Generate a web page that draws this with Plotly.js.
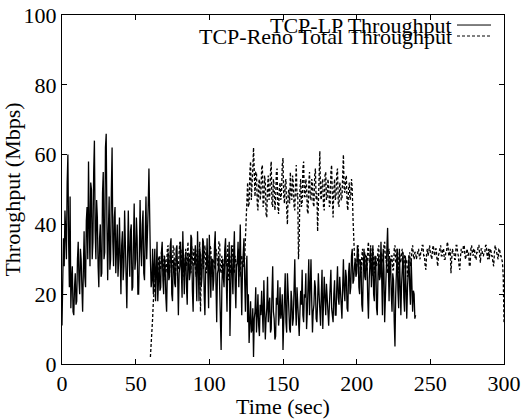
<!DOCTYPE html>
<html>
<head>
<meta charset="utf-8">
<script src="https://cdn.plot.ly/plotly-3.0.1.min.js"></script>
<style>html,body{margin:0;padding:0;background:#fff;}#chart{width:524px;height:419px;}</style>
</head>
<body>
<div id="chart"></div>
<script>
// TCP-LP throughput (Mbps), one sample every 0.5 s starting at t = 0 s
const lpStart = 0;
const lpStep = 0.5;
const lpValues = [
  11, 20, 36, 28, 44, 38, 30, 52, 60, 35, 22, 48, 16, 24, 28, 15, 14, 22, 26, 17,
  18, 30, 35, 24, 20, 33, 30, 22, 15, 27, 38, 25, 22, 41, 45, 30, 58, 40, 28, 52,
  50, 30, 35, 55, 64, 38, 30, 47, 42, 28, 22, 36, 40, 25, 26, 49, 55, 30, 32, 62,
  66, 40, 24, 38, 48, 27, 30, 50, 62, 35, 28, 42, 45, 26, 34, 40, 25, 30, 42, 28,
  20, 34, 38, 24, 28, 44, 35, 22, 16, 30, 44, 32, 25, 38, 40, 21, 22, 35, 46, 27,
  30, 42, 36, 20, 20, 31, 47, 33, 28, 40, 44, 26, 24, 37, 48, 30, 35, 45, 56, 38,
  30, 22, 24, 33, 20, 28, 33, 18, 26, 35, 18, 24, 30, 21, 22, 32, 35, 24, 20, 31,
  28, 19, 15, 27, 32, 24, 25, 34, 36, 20, 18, 29, 30, 23, 22, 33, 34, 25, 14, 26,
  28, 35, 24, 19, 38, 27, 20, 30, 32, 22, 17, 31, 30, 24, 26, 37, 36, 21, 15, 28,
  29, 34, 23, 18, 38, 26, 18, 33, 31, 22, 25, 36, 35, 20, 14, 27, 28, 36, 22, 16,
  37, 25, 19, 30, 30, 21, 24, 34, 38, 23, 12, 26, 27, 31, 20, 14, 4, 22, 30, 25,
  22, 33, 36, 24, 15, 29, 28, 35, 8, 20, 34, 27, 20, 31, 38, 23, 16, 28, 29, 35,
  22, 30, 40, 25, 14, 27, 30, 36, 24, 15, 27, 31, 12, 20, 6, 14, 18, 9, 10, 16,
  2, 13, 15, 22, 9, 14, 20, 11, 8, 17, 14, 21, 11, 9, 24, 16, 7, 13, 16, 25,
  12, 17, 19, 9, 10, 20, 28, 15, 13, 7, 8, 19, 17, 24, 11, 14, 22, 13, 15, 20,
  4, 12, 20, 26, 12, 9, 26, 18, 14, 10, 9, 21, 18, 11, 13, 28, 30, 17, 11, 22,
  16, 12, 8, 15, 21, 17, 27, 14, 12, 20, 19, 26, 10, 15, 24, 30, 14, 21, 30, 18,
  9, 15, 17, 24, 22, 13, 12, 18, 26, 20, 15, 11, 20, 27, 10, 16, 25, 19, 14, 23,
  18, 12, 11, 17, 22, 27, 16, 13, 12, 20, 24, 14, 14, 22, 28, 19, 17, 25, 20, 15,
  13, 22, 30, 21, 18, 27, 25, 16, 15, 26, 29, 20, 22, 31, 33, 23, 24, 28, 30, 25,
  26, 34, 32, 22, 20, 30, 28, 17, 15, 27, 33, 25, 24, 31, 30, 19, 13, 24, 27, 33,
  22, 29, 34, 20, 18, 31, 29, 16, 14, 26, 31, 24, 25, 35, 20, 14, 33, 27, 12, 22,
  28, 33, 39, 21, 18, 30, 30, 20, 15, 26, 24, 12, 5, 20, 29, 33, 21, 16, 33, 25,
  14, 23, 27, 32, 19, 15, 31, 24, 13, 22, 26, 31, 22, 17, 30, 25, 15, 21, 20, 13,
  14
];
// TCP-Reno total throughput (Mbps), one sample every 0.5 s starting at t = 60 s
const renoStart = 60;
const renoStep = 0.5;
const renoValues = [
  2, 5, 8, 13, 18, 20, 22, 26, 28, 24, 25, 30, 31, 27, 27, 32, 33, 29, 24, 31,
  30, 26, 28, 33, 34, 28, 26, 32, 31, 27, 29, 34, 33, 26, 25, 31, 30, 28, 27, 32,
  35, 29, 28, 33, 31, 27, 24, 30, 33, 28, 29, 35, 27, 31, 32, 26, 34, 30, 28, 33,
  31, 27, 25, 32, 33, 28, 29, 35, 15, 26, 30, 33, 27, 31, 34, 29, 26, 32, 31, 27,
  28, 34, 33, 26, 25, 30, 30, 28, 27, 33, 32, 29, 28, 35, 35, 27, 26, 31, 30, 27,
  27, 32, 33, 28, 29, 34, 24, 29, 31, 26, 28, 33, 34, 27, 26, 31, 30, 28, 29, 33,
  33, 27, 25, 31, 31, 28, 28, 32, 30, 36, 40, 48, 52, 45, 46, 55, 58, 47, 50, 56,
  62, 50, 48, 55, 55, 46, 44, 52, 53, 47, 49, 56, 57, 45, 46, 54, 52, 43, 42, 51,
  54, 47, 48, 55, 58, 46, 45, 53, 51, 44, 47, 55, 56, 45, 43, 50, 52, 47, 49, 57,
  59, 48, 46, 52, 53, 44, 40, 49, 50, 46, 55, 49, 47, 54, 52, 45, 44, 51, 57, 48,
  49, 30, 36, 50, 53, 45, 46, 56, 58, 48, 48, 53, 51, 44, 43, 52, 55, 47, 47, 53,
  52, 46, 45, 54, 56, 47, 49, 38, 44, 55, 61, 48, 47, 52, 53, 45, 44, 54, 55, 47,
  48, 53, 51, 45, 46, 55, 57, 48, 42, 50, 53, 47, 48, 55, 56, 46, 45, 52, 51, 47,
  47, 54, 60, 50, 49, 53, 54, 46, 44, 50, 52, 47, 48, 53, 50, 42, 35, 31, 30, 27,
  28, 33, 34, 29, 30, 27, 26, 31, 33, 28, 29, 32, 31, 27, 27, 33, 35, 29, 30, 34,
  28, 25, 33, 30, 26, 31, 31, 28, 29, 33, 34, 28, 27, 32, 32, 29, 29, 34, 35, 30,
  30, 27, 26, 32, 33, 29, 28, 31, 31, 27, 27, 33, 34, 29, 30, 33, 28, 26, 32, 30,
  29, 32, 33, 28, 27, 31, 31, 29, 30, 25, 26, 31, 32, 28, 29, 33, 34, 31, 30, 32,
  32, 30, 31, 33, 33, 31, 30, 32, 32, 34, 34, 31, 31, 28, 27, 32, 33, 31, 32, 34,
  32, 31, 30, 33, 34, 32, 31, 33, 33, 30, 28, 31, 32, 34, 34, 31, 31, 33, 33, 30,
  30, 32, 32, 35, 34, 31, 31, 33, 26, 30, 33, 32, 32, 30, 30, 34, 34, 32, 31, 28,
  27, 31, 33, 32, 32, 34, 34, 31, 30, 32, 33, 31, 32, 28, 28, 33, 34, 32, 31, 33,
  33, 30, 30, 32, 32, 34, 34, 31, 29, 33, 33, 31, 31, 32, 32, 34, 34, 31, 30, 33,
  30, 33, 33, 31, 31, 29, 28, 32, 34, 33, 32, 31, 30, 33, 33, 31, 31, 30, 29, 25,
  12
];
const seriesNames = ["TCP-LP Throughput", "TCP-Reno Total Throughput"];
const xTicks = [0, 50, 100, 150, 200, 250, 300];
const yTicks = [0, 20, 40, 60, 80, 100];

const FONT = "Liberation Serif";
const FS = 22;
const traces = [
  {type: "scatter", mode: "lines", name: seriesNames[0], x0: lpStart, dx: lpStep, y: lpValues,
   line: {color: "#000", width: 1.3}},
  {type: "scatter", mode: "lines", name: seriesNames[1], x0: renoStart, dx: renoStep, y: renoValues,
   line: {color: "#000", width: 1.3, dash: "3px,2px"}}
];
const axisCommon = {
  showline: true, linecolor: "#000", linewidth: 1, mirror: "allticks",
  ticks: "inside", ticklen: 5, tickcolor: "#000", showgrid: false, zeroline: false,
  tickfont: {family: FONT, size: FS, color: "#000"}, automargin: false
};
const layout = {
  width: 524, height: 419,
  margin: {l: 62, r: 20, t: 15, b: 55},
  paper_bgcolor: "#fff", plot_bgcolor: "#fff",
  showlegend: false,
  font: {family: FONT, color: "#000"},
  xaxis: Object.assign({}, axisCommon, {range: [0, 300], tickvals: xTicks,
    title: {text: "Time (sec)", font: {family: FONT, size: FS, color: "#000"}, standoff: 0}}),
  yaxis: Object.assign({}, axisCommon, {range: [0, 100], tickvals: yTicks,
    title: {text: "Throughput (Mbps)", font: {family: FONT, size: FS, color: "#000"}, standoff: 0}}),
  annotations: [
    {xref: "paper", yref: "paper", x: 0.886, y: 0.9713, xanchor: "right", yanchor: "middle",
     text: seriesNames[0], showarrow: false, font: {family: FONT, size: FS, color: "#000"}},
    {xref: "paper", yref: "paper", x: 0.886, y: 0.9398, xanchor: "right", yanchor: "middle",
     text: seriesNames[1], showarrow: false, font: {family: FONT, size: FS, color: "#000"}}
  ],
  shapes: [
    {type: "line", xref: "paper", yref: "paper", x0: 0.8937, x1: 0.9706, y0: 0.9713, y1: 0.9713,
     line: {color: "#000", width: 1}},
    {type: "line", xref: "paper", yref: "paper", x0: 0.8937, x1: 0.9706, y0: 0.9398, y1: 0.9398,
     line: {color: "#000", width: 1, dash: "3px,2px"}}
  ]
};
Plotly.newPlot("chart", traces, layout, {displayModeBar: false, staticPlot: true});
</script>
</body>
</html>
